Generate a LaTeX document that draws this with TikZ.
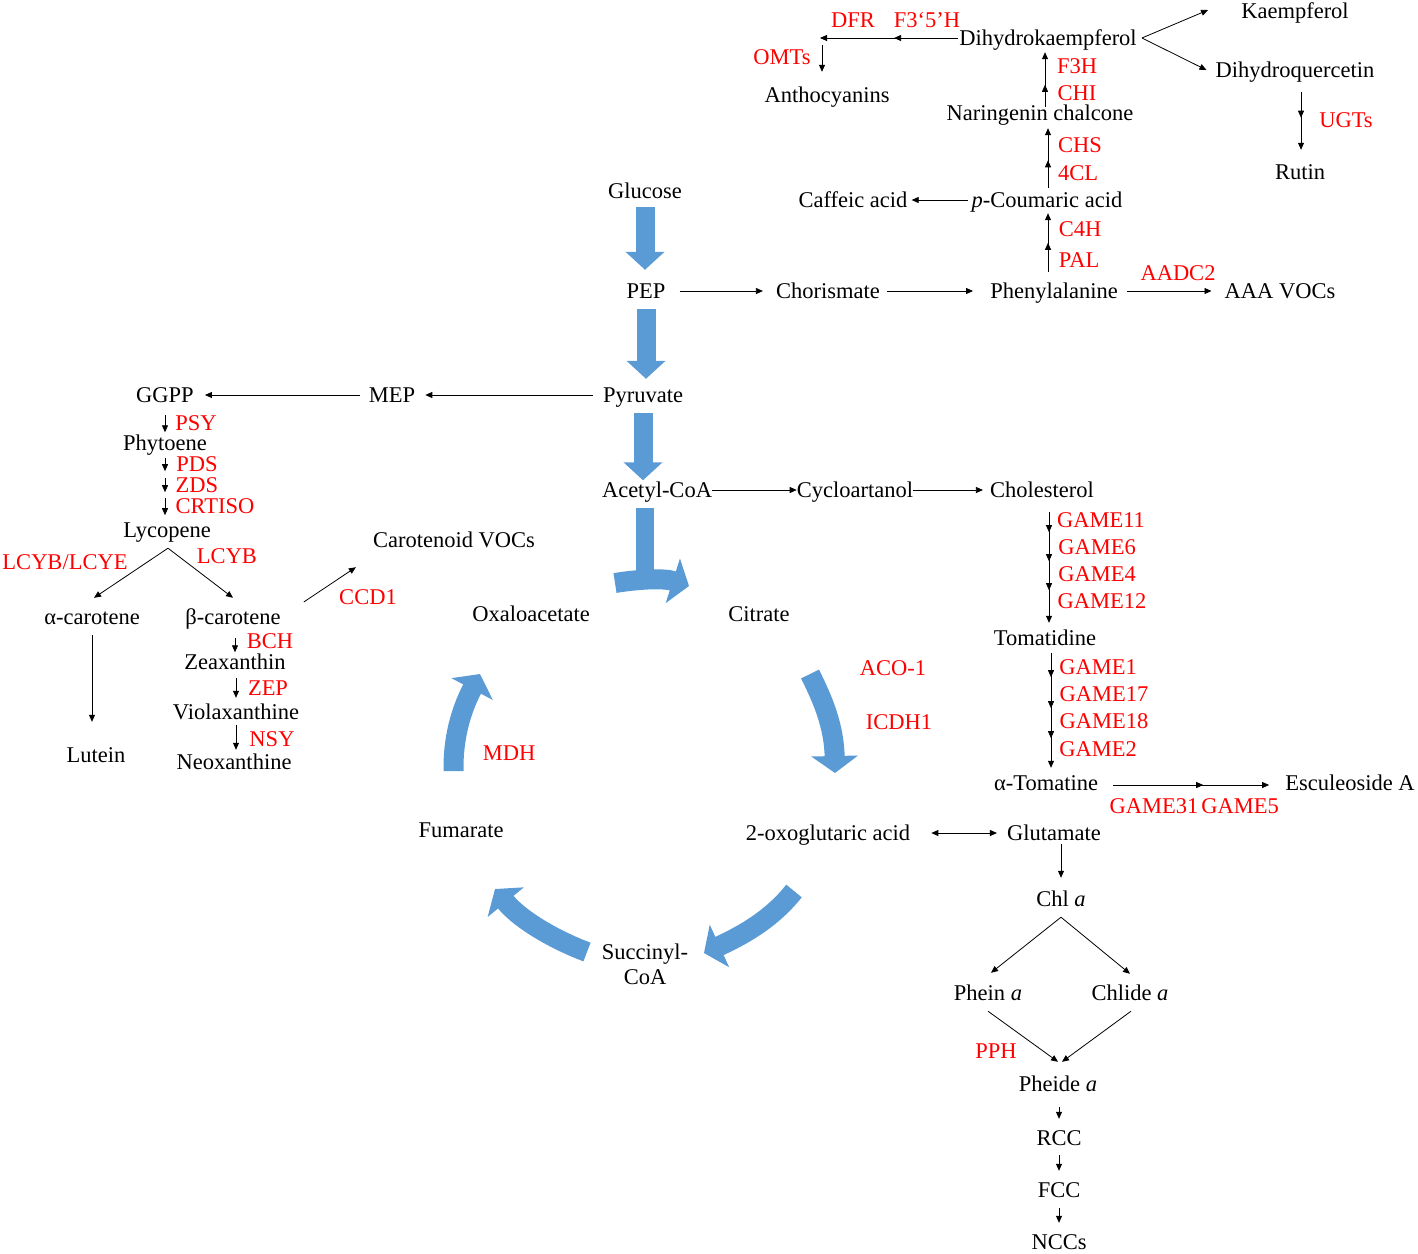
\documentclass[tikz,border=0pt]{standalone}
\usepackage{fontspec}
\setmainfont{Liberation Serif}
\usetikzlibrary{arrows.meta,calc,decorations.markings}

\definecolor{enzymered}{HTML}{FF0000}
\definecolor{fluxblue}{HTML}{5B9BD5}
\tikzstyle{metabolite}=[inner sep=0pt, text height=17pt, text depth=2pt]
\tikzstyle{enzyme}=[metabolite, text=enzymered]
\tikzstyle{path-arrow}=[draw=black, line width=0.8pt, -{Triangle[length=7pt,width=6pt]}]
\tikzstyle{fat-arrow}=[draw=fluxblue, line width=19pt, -{Triangle[length=18pt,width=38pt]}]
\tikzstyle{cycle-arrow}=[draw=fluxblue, line width=20pt, -{Triangle[length=17pt,width=46pt]}]
\tikzset{mid-tip/.style={postaction={decorate, decoration={markings,
      mark=at position #1 with {\arrow{Triangle[length=7pt,width=6pt]}}}}}}

\begin{document}
\begin{tikzpicture}[x=1pt, y=-1pt, every node/.style={font=\fontsize{22.5}{25}\selectfont}]
      \useasboundingbox (0,0) rectangle (1418,1253);

      % metabolites
      \node (glucose) at (645, 191) [metabolite] {Glucose};
      \node (pep) at (646, 291) [metabolite] {PEP};
      \node (chor) at (828, 291) [metabolite] {Chorismate};
      \node (phe) at (1054, 291) [metabolite] {Phenylalanine};
      \node (aaa) at (1280, 291) [metabolite] {AAA VOCs};
      \node (coum) at (1047, 200) [metabolite] {\textit{p}-Coumaric acid};
      \node (caff) at (853, 200) [metabolite] {Caffeic acid};
      \node (naring) at (1040, 113) [metabolite] {Naringenin chalcone};
      \node (dhk) at (1048, 38) [metabolite] {Dihydrokaempferol};
      \node (kaemp) at (1295, 11) [metabolite] {Kaempferol};
      \node (dhq) at (1295, 70) [metabolite] {Dihydroquercetin};
      \node (rutin) at (1300, 172) [metabolite] {Rutin};
      \node (antho) at (827, 95) [metabolite] {Anthocyanins};
      \node (pyr) at (643, 395) [metabolite] {Pyruvate};
      \node (mep) at (392, 395) [metabolite] {MEP};
      \node (ggpp) at (165, 395) [metabolite] {GGPP};
      \node (phyt) at (165, 443) [metabolite] {Phytoene};
      \node (lyco) at (167, 530) [metabolite] {Lycopene};
      \node (carvoc) at (454, 540) [metabolite] {Carotenoid VOCs};
      \node (acar) at (92, 617) [metabolite] {α-carotene};
      \node (bcar) at (233, 617) [metabolite] {β-carotene};
      \node (zea) at (235, 662) [metabolite] {Zeaxanthin};
      \node (viola) at (236, 712) [metabolite] {Violaxanthine};
      \node (neo) at (234, 762) [metabolite] {Neoxanthine};
      \node (lutein) at (96, 755) [metabolite] {Lutein};
      \node (acoa) at (657, 490) [metabolite] {Acetyl-CoA};
      \node (cyclo) at (855, 490) [metabolite] {Cycloartanol};
      \node (chol) at (1042, 490) [metabolite] {Cholesterol};
      \node (tomd) at (1045, 638) [metabolite] {Tomatidine};
      \node (atom) at (1046, 783) [metabolite] {α-Tomatine};
      \node (escu) at (1350, 783) [metabolite] {Esculeoside A};
      \node (oxal) at (531, 614) [metabolite] {Oxaloacetate};
      \node (citr) at (759, 614) [metabolite] {Citrate};
      \node (fum) at (461, 830) [metabolite] {Fumarate};
      \node (oxog) at (828, 833) [metabolite] {2-oxoglutaric acid};
      \node (glu) at (1054, 833) [metabolite] {Glutamate};
      \node (succ) at (645, 964) [inner sep=0pt, align=center] {Succinyl-\\CoA};
      \node (chla) at (1061, 899) [metabolite] {Chl \textit{a}};
      \node (phein) at (988, 993) [metabolite] {Phein \textit{a}};
      \node (chlide) at (1130, 993) [metabolite] {Chlide \textit{a}};
      \node (pheide) at (1058, 1084) [metabolite] {Pheide \textit{a}};
      \node (rcc) at (1059, 1138) [metabolite] {RCC};
      \node (fcc) at (1059, 1190) [metabolite] {FCC};
      \node (nccs) at (1059, 1242) [metabolite] {NCCs};

      % enzymes
      \node (dfr) at (853, 20) [enzyme] {DFR};
      \node (f35h) at (927, 20) [enzyme] {F3‘5’H};
      \node (omts) at (782, 57) [enzyme] {OMTs};
      \node (f3h) at (1077, 66) [enzyme] {F3H};
      \node (chi) at (1077, 93) [enzyme] {CHI};
      \node (chs) at (1080, 145) [enzyme] {CHS};
      \node (cl4) at (1078, 173) [enzyme] {4CL};
      \node (c4h) at (1080, 229) [enzyme] {C4H};
      \node (pal) at (1079, 260) [enzyme] {PAL};
      \node (aadc) at (1178, 273) [enzyme] {AADC2};
      \node (ugts) at (1346, 120) [enzyme] {UGTs};
      \node (psy) at (196, 423) [enzyme] {PSY};
      \node (pds) at (197, 464) [enzyme] {PDS};
      \node (zds) at (197, 485) [enzyme] {ZDS};
      \node (crtiso) at (215, 506) [enzyme] {CRTISO};
      \node (lcybe) at (65, 562) [enzyme] {LCYB/LCYE};
      \node (lcyb) at (227, 556) [enzyme] {LCYB};
      \node (ccd) at (368, 597) [enzyme] {CCD1};
      \node (bch) at (270, 641) [enzyme] {BCH};
      \node (zep) at (268, 688) [enzyme] {ZEP};
      \node (nsy) at (272, 739) [enzyme] {NSY};
      \node (game11) at (1101, 520) [enzyme] {GAME11};
      \node (game6) at (1097, 547) [enzyme] {GAME6};
      \node (game4) at (1097, 574) [enzyme] {GAME4};
      \node (game12) at (1102, 601) [enzyme] {GAME12};
      \node (game1) at (1098, 667) [enzyme] {GAME1};
      \node (game17) at (1104, 694) [enzyme] {GAME17};
      \node (game18) at (1104, 721) [enzyme] {GAME18};
      \node (game2) at (1098, 749) [enzyme] {GAME2};
      \node (game31) at (1154, 806) [enzyme] {GAME31};
      \node (game5) at (1240, 806) [enzyme] {GAME5};
      \node (aco) at (893, 668) [enzyme] {ACO-1};
      \node (icdh) at (899, 722) [enzyme] {ICDH1};
      \node (mdh) at (509, 753) [enzyme] {MDH};
      \node (pph) at (996, 1051) [enzyme] {PPH};

      % glycolysis and TCA cycle
      \draw[fat-arrow, shorten <=6.5pt, shorten >=11.5pt] (glucose.south) -- (glucose.south |- pep.north);
      \draw[fat-arrow, shorten <=8.5pt, shorten >=6.5pt] (pep.south) -- (pep.south |- pyr.north);
      \draw[fat-arrow, shorten <=8.5pt] (pyr.south) -- (pyr.south |- acoa.north);
      \draw[draw=fluxblue, line width=18pt] ($(acoa.south)+(-12,8.5)$) -- ($(acoa.south)+(-12,84)$);
      \coordinate (tca-in) at (615, 583);
      \draw[cycle-arrow] (tca-in) .. controls (640,579) and (664,578) .. (689,586);
      \draw[cycle-arrow] (810,674) .. controls (822,698) and (834,725) .. (835,773);
      \draw[cycle-arrow] (794,891) .. controls (775,915) and (750,932) .. (704,953);
      \draw[cycle-arrow] (587,952) .. controls (560,942) and (522,922) .. (495,889);
      \draw[cycle-arrow] (453.5,771) .. controls (453,740) and (460,712) .. (480,674);

      % phenylpropanoids
      \draw[path-arrow, shorten <=14pt, shorten >=13pt] (pep.east) -- (chor.west);
      \draw[path-arrow, shorten <=7pt, shorten >=17pt] (chor.east) -- (phe.west);
      \draw[path-arrow, shorten <=9pt, shorten >=13pt] (phe.east) -- (aaa.west);
      \draw[path-arrow, mid-tip=29pt] ($(phe.north)+(-6,-9.5)$) -- ($(coum.south)+(1,3.5)$);
      \draw[path-arrow, shorten <=4pt, shorten >=4pt] (coum.west) -- (caff.east);
      \draw[path-arrow, mid-tip=28pt] ($(coum.north)+(1,-2)$) -- ($(naring.south)+(8,5.5)$);
      \draw[path-arrow, mid-tip=22pt] ($(naring.north)+(5,3.5)$) -- ($(dhk.south)+(-3,4.5)$);
      \coordinate (dfr-end) at (820, 38);
      \draw[path-arrow, mid-tip=64pt] ($(dhk.west)+(-1,0)$) -- (dfr-end);
      \draw[path-arrow] ($(dfr-end)+(2,7)$) -- ($(dfr-end |- antho.north)+(2,-13.5)$);
      \coordinate (dhk-fork) at ($(dhk.east)+(5,0)$);
      \draw[path-arrow] (dhk-fork) -- ($(kaemp.west)+(-33,-1)$);
      \draw[path-arrow] (dhk-fork) -- ($(dhq.west)+(-9,0)$);
      \draw[path-arrow, mid-tip=26pt] ($(dhq.south -| rutin)+(1,12)$) -- ($(rutin.north)+(1,-12.5)$);

      % carotenoids
      \draw[path-arrow, shorten <=10pt, shorten >=10pt] (pyr.west) -- (mep.east);
      \draw[path-arrow, shorten <=9pt, shorten >=11pt] (mep.west) -- (ggpp.east);
      \draw[path-arrow, shorten <=10.5pt, shorten >=1pt] (ggpp.south) -- (phyt.north);
      \draw[path-arrow, shorten <=3.5pt, shorten >=2.5pt] (pds.north -| phyt) -- (pds.south -| phyt);
      \draw[path-arrow, shorten <=2.5pt, shorten >=2.5pt] (zds.north -| phyt) -- (zds.south -| phyt);
      \draw[path-arrow, shorten <=1.5pt, shorten >=0.5pt] (crtiso.north -| phyt) -- (crtiso.south -| phyt);
      \coordinate (lyco-fork) at ($(lyco.south)+(1,8.5)$);
      \draw[path-arrow] (lyco-fork) -- ($(acar.north)+(2,-9.5)$);
      \draw[path-arrow] (lyco-fork) -- ($(bcar.north)+(0,-9.5)$);
      \draw[path-arrow] ($(bcar.east)+(23,-15)$) -- ($(carvoc.south west)+(-17,17.5)$);
      \draw[path-arrow, shorten <=8.5pt, shorten >=23.5pt] (acar.south) -- (acar.south |- lutein.north);
      \draw[path-arrow, shorten <=11pt] (bcar.south -| zea) -- (zea.north);
      \draw[path-arrow, shorten <=6.5pt, shorten >=4.5pt] (zea.south -| viola) -- (viola.north);
      \draw[path-arrow, shorten <=3.5pt, shorten >=2.5pt] (viola.south) -- (viola.south |- neo.north);

      % steroidal glycoalkaloids
      \draw[path-arrow] (acoa.east) -- (cyclo.west);
      \draw[path-arrow, shorten >=7pt] (cyclo.east) -- (chol.west);
      \draw[path-arrow, mid-tip=20pt, mid-tip=49pt, mid-tip=78pt]
            ($(chol.south)+(7,12.5)$) -- ($(tomd.north)+(4,-5.5)$);
      \draw[path-arrow, mid-tip=24pt, mid-tip=55pt, mid-tip=85pt]
            ($(tomd.south)+(6,5.5)$) -- ($(atom.north)+(5,-5.5)$);
      \draw[path-arrow, mid-tip=90pt] ($(atom.east)+(15,2)$) -- ($(escu.west)+(-16,2)$);

      % chlorophyll breakdown
      \draw[path-arrow, {Triangle[length=7pt,width=6pt]}-{Triangle[length=7pt,width=6pt]},
            shorten <=21pt, shorten >=10pt] (oxog.east) -- (glu.west);
      \draw[path-arrow, shorten <=1.5pt, shorten >=11.5pt] (glu.south -| chla) -- (chla.north);
      \coordinate (chla-fork) at ($(chla.south)+(0,8.5)$);
      \draw[path-arrow] (chla-fork) -- ($(phein.north)+(3,-10.5)$);
      \draw[path-arrow] (chla-fork) -- ($(chlide.north)+(0,-9.5)$);
      \draw[path-arrow] ($(phein.south)+(0,8.5)$) -- ($(pheide.north)+(0,-12.5)$);
      \draw[path-arrow] ($(chlide.south)+(1,8.5)$) -- ($(pheide.north)+(4,-12.5)$);
      \draw[path-arrow, shorten <=13.5pt, shorten >=9.5pt] (pheide.south -| rcc) -- (rcc.north);
      \draw[path-arrow, shorten <=7.5pt, shorten >=9.5pt] (rcc.south) -- (fcc.north);
      \draw[path-arrow, shorten <=8.5pt, shorten >=9.5pt] (fcc.south) -- (nccs.north);
\end{tikzpicture}
\end{document}
